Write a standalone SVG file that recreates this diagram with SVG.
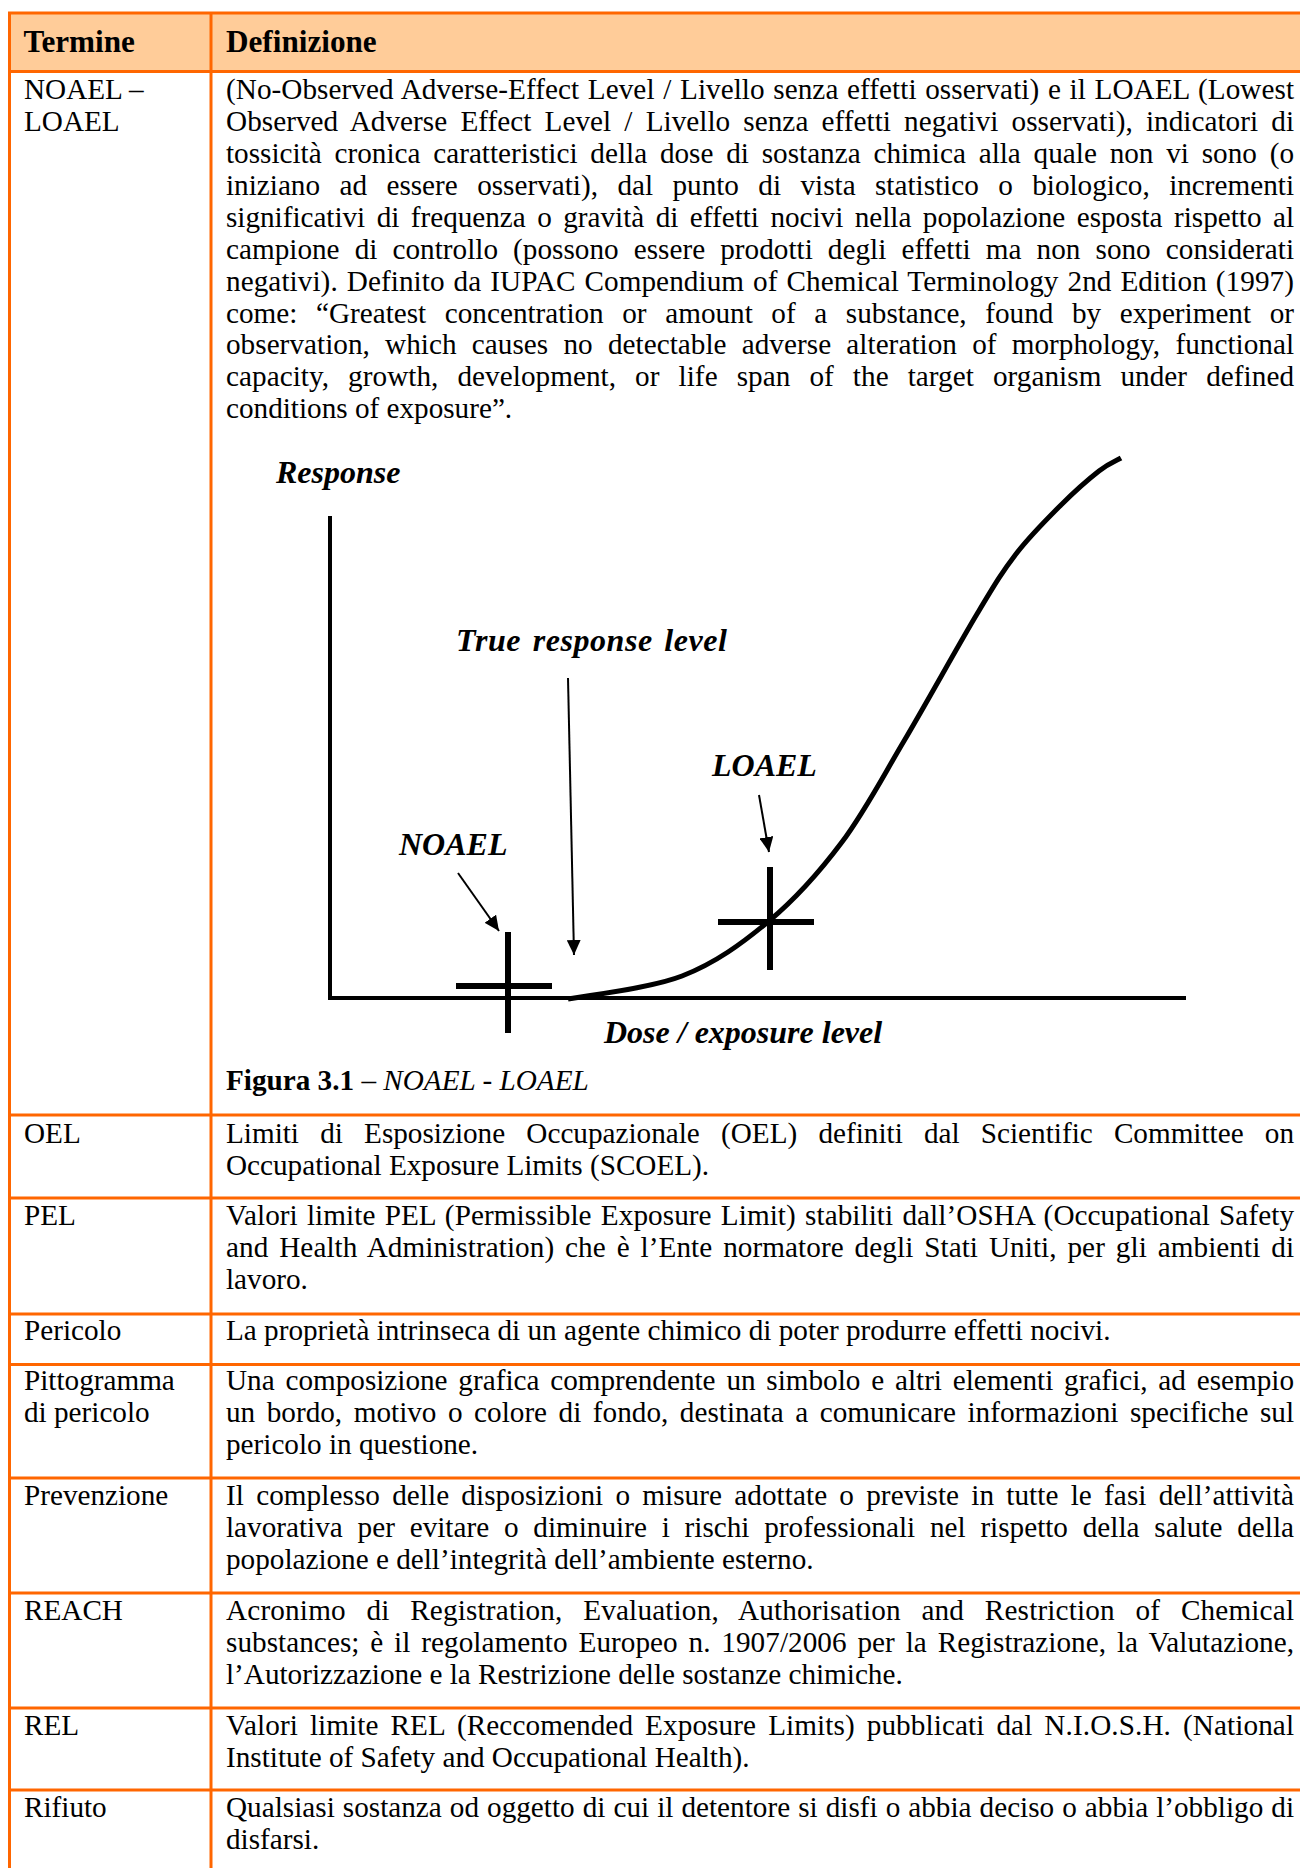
<svg xmlns="http://www.w3.org/2000/svg" width="1300" height="1868" viewBox="0 0 1300 1868">
<defs>
<style>
.t{font-family:"Liberation Serif","Times New Roman",serif;font-size:29.2px;fill:#000}
.h{font-family:"Liberation Serif","Times New Roman",serif;font-size:31.2px;font-weight:bold;fill:#000}
.c{font-family:"Liberation Serif","Times New Roman",serif;font-size:32px;font-weight:bold;font-style:italic;fill:#000}
.b{font-weight:bold}
.i{font-style:italic}
.grid{stroke:#FF6600;stroke-width:3;fill:none}
.ax{stroke:#000;stroke-width:4;fill:none}
.cr{stroke:#000;stroke-width:6;fill:none}
.cv{stroke:#000;stroke-width:5;fill:none}
.ar{stroke:#000;stroke-width:2;fill:none;marker-end:url(#ah)}
</style>
<marker id="ah" viewBox="0 0 15 14" refX="15" refY="7" markerWidth="15" markerHeight="14" markerUnits="userSpaceOnUse" orient="auto">
<path d="M0,0 L15,7 L0,14 z" fill="#000"/>
</marker>
</defs>
<rect width="1300" height="1868" fill="#fff"/>

<g id="table-grid">
<rect x="9" y="13" width="1291" height="58" fill="#FFCC99"/>
<path class="grid" d="M9,13 H1300 M9,71.5 H1300 M9,1115 H1300 M9,1198 H1300 M9,1314 H1300 M9,1364.5 H1300 M9,1478 H1300 M9,1593 H1300 M9,1708 H1300 M9,1790 H1300 M9.5,11.5 V1868 M211,11.5 V1868"/>
</g>

<g id="header">
<text class="h" x="23.5" y="52">Termine</text>
<text class="h" x="226" y="52">Definizione</text>
</g>

<g id="row-noael">
<text class="t" x="24" y="99.3">NOAEL –</text>
<text class="t" x="24" y="131">LOAEL</text>
<text class="t" x="226" y="99.3" textLength="1068" lengthAdjust="spacing" style="word-spacing:1.3px">(No-Observed Adverse-Effect Level / Livello senza effetti osservati) e il LOAEL (Lowest</text>
<text class="t" x="226" y="131" textLength="1068" lengthAdjust="spacing" style="word-spacing:5.8px">Observed Adverse Effect Level / Livello senza effetti negativi osservati), indicatori di</text>
<text class="t" x="226" y="163" textLength="1068" lengthAdjust="spacing" style="word-spacing:5.5px">tossicità cronica caratteristici della dose di sostanza chimica alla quale non vi sono (o</text>
<text class="t" x="226" y="195" textLength="1068" lengthAdjust="spacing" style="word-spacing:12.1px">iniziano ad essere osservati), dal punto di vista statistico o biologico, incrementi</text>
<text class="t" x="226" y="227" textLength="1068" lengthAdjust="spacing" style="word-spacing:4.2px">significativi di frequenza o gravità di effetti nocivi nella popolazione esposta rispetto al</text>
<text class="t" x="226" y="258.5" textLength="1068" lengthAdjust="spacing" style="word-spacing:7.8px">campione di controllo (possono essere prodotti degli effetti ma non sono considerati</text>
<text class="t" x="226" y="290.5" textLength="1068" lengthAdjust="spacing" style="word-spacing:1.6px">negativi). Definito da IUPAC Compendium of Chemical Terminology 2nd Edition (1997)</text>
<text class="t" x="226" y="322.5" textLength="1068" lengthAdjust="spacing" style="word-spacing:11.3px">come: “Greatest concentration or amount of a substance, found by experiment or</text>
<text class="t" x="226" y="354" textLength="1068" lengthAdjust="spacing" style="word-spacing:7.9px">observation, which causes no detectable adverse alteration of morphology, functional</text>
<text class="t" x="226" y="386" textLength="1068" lengthAdjust="spacing" style="word-spacing:11.7px">capacity, growth, development, or life span of the target organism under defined</text>
<text class="t" x="226" y="418">conditions of exposure”.</text>
<text class="t" x="226" y="1089.5"><tspan class="b">Figura 3.1</tspan> – <tspan class="i">NOAEL - LOAEL</tspan></text>
</g>

<g id="chart">
<g id="axes">
<line class="ax" x1="330" y1="516" x2="330" y2="1000"/>
<line class="ax" x1="328" y1="998" x2="1186" y2="998"/>
</g>
<g id="label-response"><text class="c" x="276" y="483">Response</text></g>
<g id="label-true"><text class="c" x="456" y="651" textLength="271" lengthAdjust="spacing" style="word-spacing:3px">True response level</text></g>
<g id="label-loael"><text class="c" x="712" y="776">LOAEL</text></g>
<g id="label-noael"><text class="c" x="399" y="855">NOAEL</text></g>
<g id="label-dose"><text class="c" x="604" y="1043">Dose / exposure level</text></g>
<g id="curve">
<path class="cv" d="M568,999 C587,995.2 648.5,989 682,976 C715.5,963 742.3,943.3 769,921 C795.7,898.7 819.5,872 842,842 C864.5,812 881.5,779 904,741 C926.5,703 958.3,645.2 977,614 C995.7,582.8 1002,572.2 1016,554 C1030,535.8 1047.2,518.8 1061,505 C1074.8,491.2 1089,478.8 1099,471 C1109,463.2 1117.3,460.2 1121,458"/>
</g>
<g id="cross-noael">
<line class="cr" x1="508" y1="932" x2="508" y2="1033"/>
<line class="cr" x1="456" y1="986" x2="552" y2="986"/>
</g>
<g id="cross-loael">
<line class="cr" x1="770" y1="867" x2="770" y2="970"/>
<line class="cr" x1="718" y1="922" x2="814" y2="922"/>
</g>
</g>

<g id="connectors">
<line class="ar" x1="568" y1="678" x2="574" y2="955"/>
<line class="ar" x1="759" y1="795" x2="769" y2="852"/>
<line class="ar" x1="458" y1="873" x2="499" y2="931"/>
</g>

<g id="row-oel">
<text class="t" x="24" y="1143">OEL</text>
<text class="t" x="226" y="1143" textLength="1068" lengthAdjust="spacing" style="word-spacing:13.9px">Limiti di Esposizione Occupazionale (OEL) definiti dal Scientific Committee on</text>
<text class="t" x="226" y="1175">Occupational Exposure Limits (SCOEL).</text>
</g>

<g id="row-pel">
<text class="t" x="24" y="1225">PEL</text>
<text class="t" x="226" y="1225" textLength="1068" lengthAdjust="spacing" style="word-spacing:1.8px">Valori limite PEL (Permissible Exposure Limit) stabiliti dall’OSHA (Occupational Safety</text>
<text class="t" x="226" y="1257" textLength="1068" lengthAdjust="spacing" style="word-spacing:3.5px">and Health Administration) che è l’Ente normatore degli Stati Uniti, per gli ambienti di</text>
<text class="t" x="226" y="1289">lavoro.</text>
</g>

<g id="row-pericolo">
<text class="t" x="24" y="1340">Pericolo</text>
<text class="t" x="226" y="1340">La proprietà intrinseca di un agente chimico di poter produrre effetti nocivi.</text>
</g>

<g id="row-pittogramma">
<text class="t" x="24" y="1390">Pittogramma</text>
<text class="t" x="24" y="1422">di pericolo</text>
<text class="t" x="226" y="1390" textLength="1068" lengthAdjust="spacing" style="word-spacing:3.5px">Una composizione grafica comprendente un simbolo e altri elementi grafici, ad esempio</text>
<text class="t" x="226" y="1422" textLength="1068" lengthAdjust="spacing" style="word-spacing:4.2px">un bordo, motivo o colore di fondo, destinata a comunicare informazioni specifiche sul</text>
<text class="t" x="226" y="1454">pericolo in questione.</text>
</g>

<g id="row-prevenzione">
<text class="t" x="24" y="1505">Prevenzione</text>
<text class="t" x="226" y="1505" textLength="1068" lengthAdjust="spacing" style="word-spacing:4.8px">Il complesso delle disposizioni o misure adottate o previste in tutte le fasi dell’attività</text>
<text class="t" x="226" y="1537" textLength="1068" lengthAdjust="spacing" style="word-spacing:7.5px">lavorativa per evitare o diminuire i rischi professionali nel rispetto della salute della</text>
<text class="t" x="226" y="1569">popolazione e dell’integrità dell’ambiente esterno.</text>
</g>

<g id="row-reach">
<text class="t" x="24" y="1620">REACH</text>
<text class="t" x="226" y="1620" textLength="1068" lengthAdjust="spacing" style="word-spacing:13.2px">Acronimo di Registration, Evaluation, Authorisation and Restriction of Chemical</text>
<text class="t" x="226" y="1652" textLength="1068" lengthAdjust="spacing" style="word-spacing:3.5px">substances; è il regolamento Europeo n. 1907/2006 per la Registrazione, la Valutazione,</text>
<text class="t" x="226" y="1684">l’Autorizzazione e la Restrizione delle sostanze chimiche.</text>
</g>

<g id="row-rel">
<text class="t" x="24" y="1735">REL</text>
<text class="t" x="226" y="1735" textLength="1068" lengthAdjust="spacing" style="word-spacing:4.6px">Valori limite REL (Reccomended Exposure Limits) pubblicati dal N.I.O.S.H. (National</text>
<text class="t" x="226" y="1767">Institute of Safety and Occupational Health).</text>
</g>

<g id="row-rifiuto">
<text class="t" x="24" y="1817">Rifiuto</text>
<text class="t" x="226" y="1817" textLength="1068" lengthAdjust="spacing" style="word-spacing:0.7px">Qualsiasi sostanza od oggetto di cui il detentore si disfi o abbia deciso o abbia l’obbligo di</text>
<text class="t" x="226" y="1849">disfarsi.</text>
</g>
</svg>
